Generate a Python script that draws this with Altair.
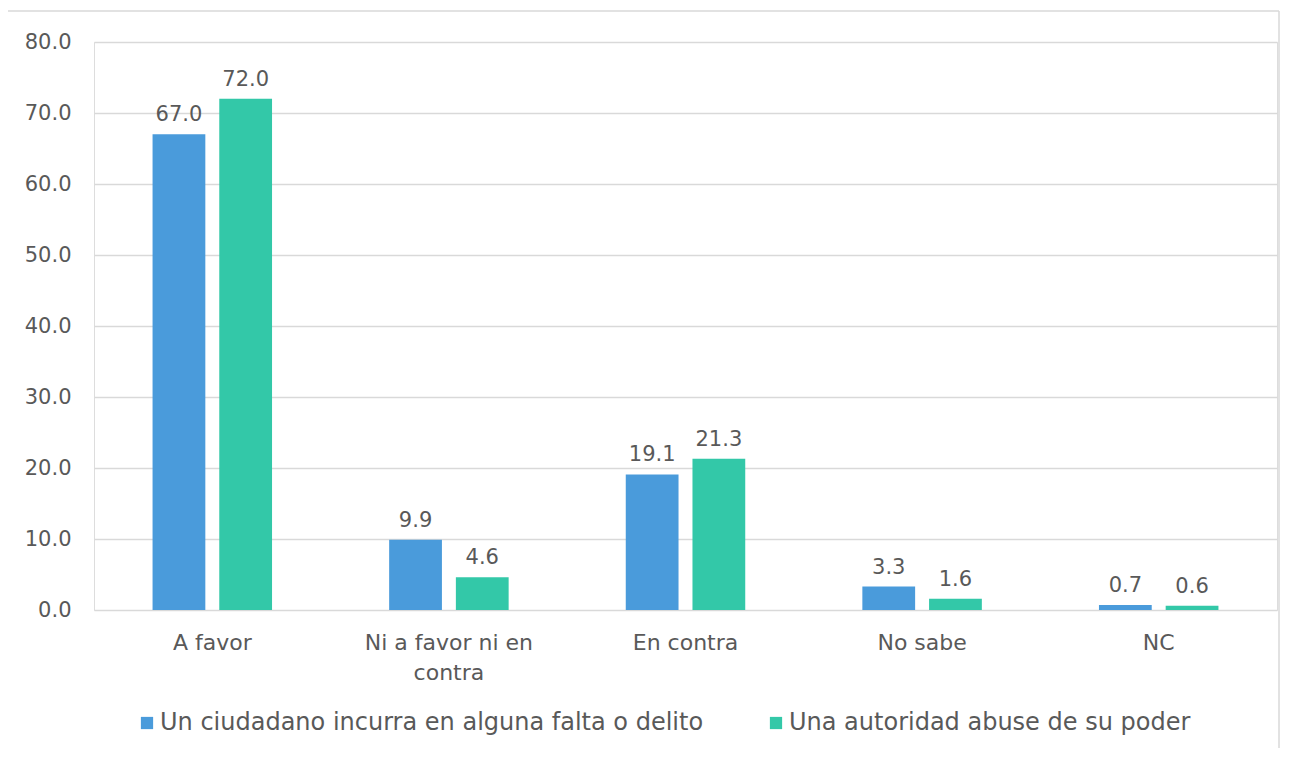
import altair as alt
import pandas as pd

categories = ["A favor", "Ni a favor ni en contra", "En contra", "No sabe", "NC"]
series_names = ["Un ciudadano incurra en alguna falta o delito", "Una autoridad abuse de su poder"]
ciudadano = [67.0, 9.9, 19.1, 3.3, 0.7]
autoridad = [72.0, 4.6, 21.3, 1.6, 0.6]
colors = ["#4A9BDB", "#33C8A8"]

rows = []
for c, v in zip(categories, ciudadano):
    rows.append({"cat": c, "serie": series_names[0], "val": v})
for c, v in zip(categories, autoridad):
    rows.append({"cat": c, "serie": series_names[1], "val": v})
df = pd.DataFrame(rows)

FONT = "DejaVu Sans"
GRAY = "#595959"
FS = 22

x_enc = alt.X("cat:N", sort=categories, title=None,
              scale=alt.Scale(paddingInner=0.495, paddingOuter=0.2475),
              axis=alt.Axis(labelAngle=0, labelFontSize=FS, labelColor=GRAY, labelFont=FONT,
                            labelPadding=22, ticks=False, domain=False, grid=False,
                            labelLineHeight=30,
                            labelExpr="datum.label == 'Ni a favor ni en contra' ? ['Ni a favor ni en', 'contra'] : datum.label"))
xo_enc = alt.XOffset("serie:N", sort=series_names, scale=alt.Scale(paddingInner=0.209, paddingOuter=0))
y_enc = alt.Y("val:Q", title=None,
              scale=alt.Scale(domain=[0, 80]),
              axis=alt.Axis(values=[0, 10, 20, 30, 40, 50, 60, 70, 80], format=".1f",
                            labelFontSize=FS - 1, labelColor=GRAY, labelFont=FONT, labelPadding=23,
                            domain=False, ticks=False, gridColor="#D9D9D9", gridWidth=1.3))

bars = alt.Chart(df).mark_bar().encode(
    x=x_enc, xOffset=xo_enc, y=y_enc,
    color=alt.Color("serie:N", sort=series_names, title=None,
                    scale=alt.Scale(domain=series_names, range=colors),
                    legend=alt.Legend(orient="none", legendX=41, legendY=669, direction="horizontal",
                                      symbolType="square", symbolSize=150, symbolStrokeWidth=0,
                                      labelFontSize=FS + 2, labelColor=GRAY, labelFont=FONT,
                                      columnPadding=60, labelOffset=1, labelLimit=800)),
)

labels = alt.Chart(df).mark_text(baseline="bottom", dy=-9, fontSize=FS - 1, color=GRAY, font=FONT).encode(
    x=alt.X("cat:N", sort=categories), xOffset=alt.XOffset("serie:N", sort=series_names),
    y="val:Q", text=alt.Text("val:Q", format=".1f"),
)

one = pd.DataFrame({"a": [0]})
frame_style = dict(color="#D9D9D9", strokeWidth=1.5)
left = alt.Chart(one).mark_rule(**frame_style).encode(x=alt.value(-87), y=alt.value(-31), y2=alt.value(760))
right = alt.Chart(one).mark_rule(**frame_style).encode(x=alt.value(1185), y=alt.value(-31), y2=alt.value(760))
top = alt.Chart(one).mark_rule(**frame_style).encode(x=alt.value(-87), x2=alt.value(1185), y=alt.value(-31))

chart = alt.layer(left, right, top, bars, labels).properties(
    width=1183, height=568,
    autosize=alt.AutoSizeParams(type="none"),
    padding={"left": 86, "top": 34, "right": 3, "bottom": 138},
).configure_view(stroke=None, fill=None).configure_axis(domain=False).configure(font=FONT)

chart.save("out.html", embed_options={"renderer": "svg", "actions": False})
